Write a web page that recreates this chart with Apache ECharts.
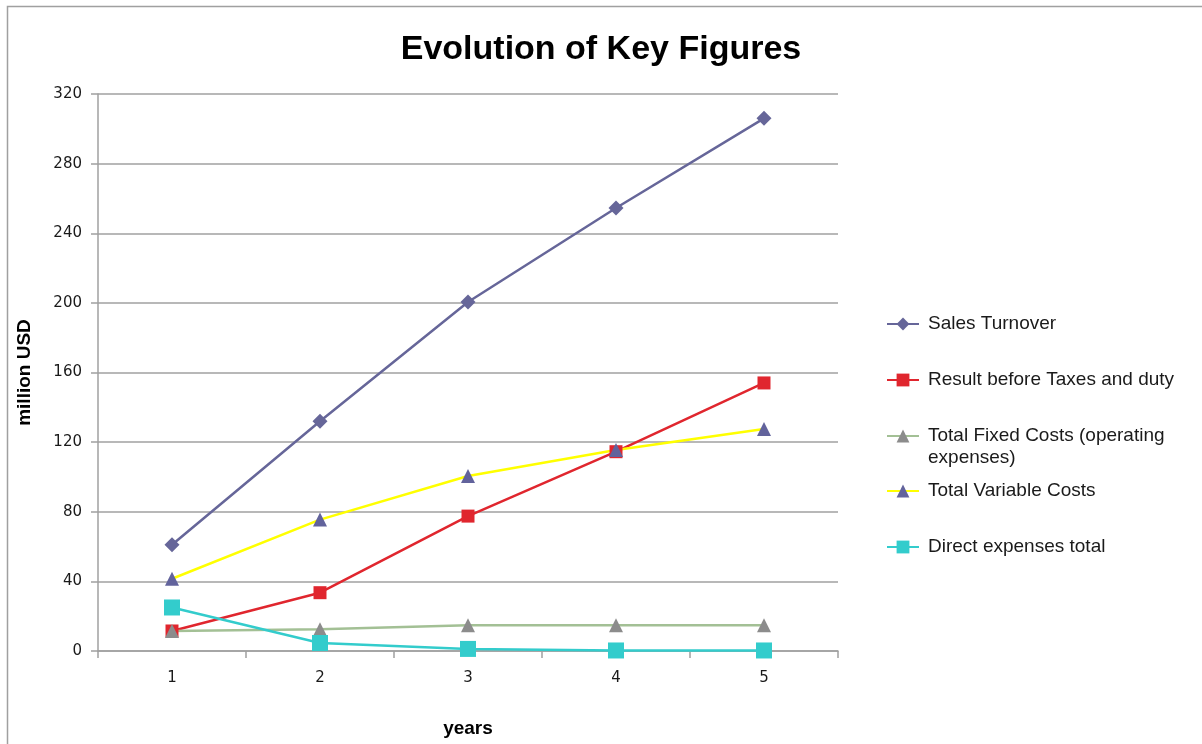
<!DOCTYPE html>
<html>
<head>
<meta charset="utf-8">
<script src="https://cdn.jsdelivr.net/npm/echarts@6/dist/echarts.min.js"></script>
<style>
  html, body { margin: 0; padding: 0; background: #fff; }
  #chart { width: 1202px; height: 744px; }
</style>
</head>
<body>
<div id="chart"></div>
<script>
// Years on the horizontal axis
const years = ['1', '2', '3', '4', '5'];

// Key figures in million USD
const salesTurnover = [61, 132, 200.5, 254.5, 306];
const resultBeforeTaxes = [11.5, 33.5, 77.5, 114.5, 154];
const totalFixedCosts = [11.5, 12.5, 14.8, 14.8, 14.8];
const totalVariableCosts = [41.5, 75.5, 100.5, 115.5, 127.5];
const directExpenses = [25, 4.6, 1.2, 0.3, 0.3];

// Value axis ticks
const yMin = 0;
const yMax = 320;
const yStep = 40;

const seriesNames = [
  'Sales Turnover',
  'Result before Taxes and duty',
  'Total Fixed Costs (operating expenses)',
  'Total Variable Costs',
  'Direct expenses total'
];

const font = 'Liberation Sans, Arial, sans-serif';
const tickFont = 'DejaVu Sans, Verdana, sans-serif';

function lineSeries(name, data, lineColor, markerColor, symbol, size) {
  return {
    name: name,
    type: 'line',
    data: data,
    symbol: symbol,
    symbolSize: size,
    showAllSymbol: true,
    lineStyle: { color: lineColor, width: 2.5 },
    itemStyle: { color: markerColor, borderColor: markerColor, borderWidth: 0 },
    emphasis: { disabled: true },
    animation: false
  };
}

// One legend entry per series so each row sits at its own height.
// The wrapped entry gets a leading blank line so its first line lines up with the icon.
const legendTops = [313, 369, 403, 480, 536];
const legends = seriesNames.map(function (name, i) {
  const multi = (i === 2);
  return {
    data: [name],
    orient: 'vertical',
    left: 886,
    top: legendTops[i],
    padding: 0,
    itemWidth: 32,
    itemHeight: 16,
    itemGap: 0,
    selectedMode: false,
    formatter: multi ? function () { return ' \nTotal Fixed Costs (operating\nexpenses)'; } : undefined,
    textStyle: {
      fontFamily: font,
      fontSize: 19,
      color: '#1a1a1a',
      lineHeight: 22,
      padding: [0, 0, 0, 4]
    }
  };
});

const chart = echarts.init(document.getElementById('chart'), null, { renderer: 'canvas' });

chart.setOption({
  backgroundColor: '#ffffff',
  animation: false,
  title: {
    text: 'Evolution of Key Figures',
    left: 'center',
    top: 28,
    textStyle: { fontFamily: font, fontSize: 34, fontWeight: 'bold', color: '#000' }
  },
  graphic: [{
    type: 'rect',
    shape: { x: 7.5, y: 6.5, width: 1250, height: 800 },
    style: { fill: 'none', stroke: '#a0a0a0', lineWidth: 1.5 },
    silent: true,
    z: -10
  }],
  legend: legends,
  grid: { left: 98, right: 364, top: 94, bottom: 93, containLabel: false, outerBoundsMode: 'none' },
  xAxis: {
    type: 'category',
    data: years,
    boundaryGap: true,
    name: 'years',
    nameLocation: 'middle',
    nameGap: 68,
    nameTextStyle: { fontFamily: font, fontSize: 19, fontWeight: 'bold', color: '#000' },
    axisLine: { lineStyle: { color: '#a0a0a0', width: 1.5 } },
    axisTick: { show: true, alignWithLabel: false, length: 7, lineStyle: { color: '#a0a0a0', width: 1.5 } },
    axisLabel: { fontFamily: tickFont, fontSize: 15, color: '#1a1a1a', margin: 20 },
    splitLine: { show: false }
  },
  yAxis: {
    type: 'value',
    min: yMin,
    max: yMax,
    interval: yStep,
    name: 'million USD',
    nameLocation: 'middle',
    nameGap: 64,
    nameRotate: 90,
    nameTextStyle: { fontFamily: font, fontSize: 19, fontWeight: 'bold', color: '#000' },
    axisLine: { show: true, lineStyle: { color: '#a0a0a0', width: 1.5 } },
    axisTick: { show: true, length: 7, lineStyle: { color: '#a0a0a0', width: 1.5 } },
    axisLabel: { fontFamily: tickFont, fontSize: 15, color: '#1a1a1a', margin: 16 },
    splitLine: { show: true, lineStyle: { color: '#a0a0a0', width: 1.5 } }
  },
  series: [
    lineSeries(seriesNames[0], salesTurnover, '#666699', '#666699', 'diamond', 15),
    lineSeries(seriesNames[1], resultBeforeTaxes, '#e0262e', '#e0262e', 'rect', 13),
    lineSeries(seriesNames[2], totalFixedCosts, '#a3c095', '#8c8c8c', 'triangle', 14),
    lineSeries(seriesNames[3], totalVariableCosts, '#ffff00', '#62639c', 'triangle', 14),
    lineSeries(seriesNames[4], directExpenses, '#33cccc', '#33cccc', 'rect', 16)
  ]
});
</script>
</body>
</html>
